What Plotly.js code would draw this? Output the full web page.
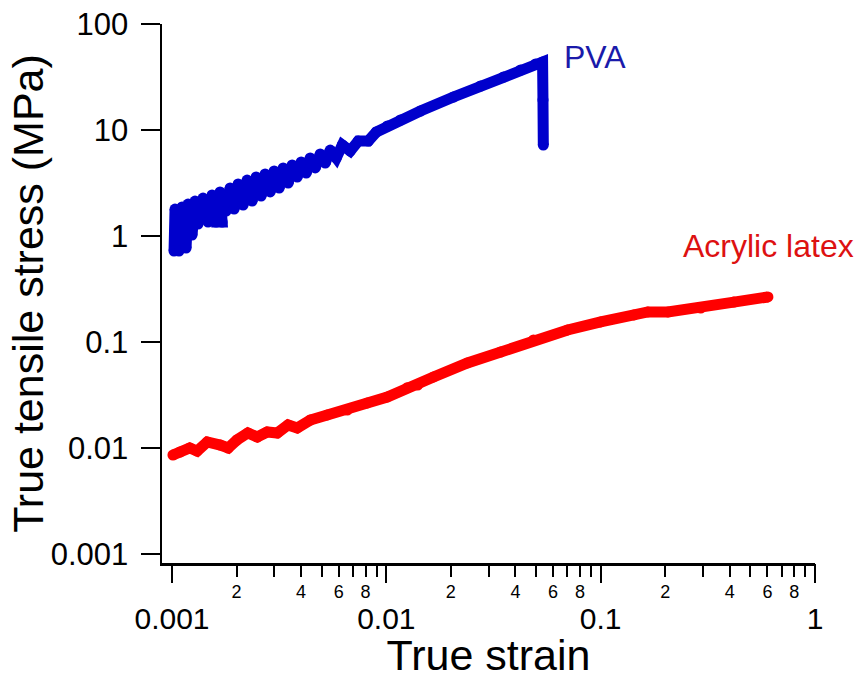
<!DOCTYPE html>
<html>
<head>
<meta charset="utf-8">
<script src="https://cdn.plot.ly/plotly-3.0.1.min.js"></script>
<style>html,body{margin:0;padding:0;background:#fff;}#chart{width:856px;height:679px;}</style>
</head>
<body>
<div id="chart"></div>
<script>
// PVA: true strain vs true tensile stress (MPa); noisy start read as a zigzag of samples
var pvaStrain = [0.001022, 0.001033, 0.001078, 0.001114, 0.001163, 0.001188, 0.001240, 0.001281, 0.001323, 0.001396,
  0.001473, 0.001538, 0.001606, 0.001713, 0.001676, 0.001788, 0.001867, 0.001949, 0.002035, 0.002147,
  0.002241, 0.002365, 0.002469, 0.002605, 0.002720, 0.002871, 0.002997, 0.003162, 0.003302, 0.003484,
  0.003637, 0.003838, 0.004007, 0.004228, 0.004414, 0.004658, 0.004915, 0.005187, 0.005474, 0.005840,
  0.006230, 0.006787, 0.007397, 0.008240, 0.008981, 0.01011, 0.01163, 0.01442, 0.02056, 0.02749,
  0.03521, 0.04228, 0.04969, 0.05358, 0.05380, 0.05400];
var pvaStress = [0.7221, 1.797, 0.7221, 1.877, 0.7704, 2.003, 1.0220, 2.138, 1.2980, 2.282,
  1.3556, 2.436, 1.3556, 1.3556, 2.600, 1.7213, 2.837, 1.7976, 3.094, 1.9610,
  3.374, 2.1389, 3.602, 2.3846, 3.845, 2.6016, 4.104, 2.8376, 4.380, 3.1623,
  4.675, 3.6031, 4.990, 3.9303, 5.442, 4.3818, 5.937, 4.8843, 6.474, 5.4444,
  7.217, 6.3383, 7.8748, 7.8748, 9.5750, 10.907, 12.43, 15.11, 20.48, 26.01,
  31.62, 36.81, 41.95, 43.80, 19.19, 7.2];

// Acrylic latex
var latexStrain = [0.00101, 0.00109, 0.00121, 0.00131, 0.00146, 0.00168, 0.00183, 0.00201, 0.00226, 0.00250,
  0.00278, 0.00310, 0.00348, 0.00384, 0.00442, 0.00530, 0.00657, 0.00815, 0.0101, 0.0125,
  0.0140, 0.0166, 0.0239, 0.0341, 0.0486, 0.0701, 0.100, 0.143, 0.166, 0.206,
  0.293, 0.418, 0.603];
var latexStress = [0.00859, 0.00917, 0.0100, 0.00937, 0.0114, 0.01067, 0.0100, 0.0119, 0.01386, 0.0127,
  0.01416, 0.01386, 0.0165, 0.01545, 0.01837, 0.0205, 0.0228, 0.0266, 0.0303, 0.0370,
  0.0393, 0.0468, 0.0634, 0.0805, 0.1045, 0.130, 0.1545, 0.180, 0.192, 0.192,
  0.209, 0.238, 0.266];

// Axis ticks
var xMajorTicks = [0.001, 0.01, 0.1, 1];
var xMajorLabels = ['0.001', '0.01', '0.1', '1'];
var xMinorTicks = [0.002, 0.003, 0.004, 0.005, 0.006, 0.007, 0.008, 0.009,
  0.02, 0.03, 0.04, 0.05, 0.06, 0.07, 0.08, 0.09,
  0.2, 0.3, 0.4, 0.5, 0.6, 0.7, 0.8, 0.9];
var xMinorLabels = ['2', '', '4', '', '6', '', '8', '',
  '2', '', '4', '', '6', '', '8', '',
  '2', '', '4', '', '6', '', '8', ''];
var yTicks = [0.001, 0.01, 0.1, 1, 10, 100];
var yLabels = ['0.001', '0.01', '0.1', '1', '10', '100'];

// Series labels
var seriesNames = ['PVA', 'Acrylic latex'];

var FONT = 'Arial, "Liberation Sans", sans-serif';
var xRange = [-3.0467, 0];
var yRange = [-3.0849, 2];

var traces = [
  {x: latexStrain, y: latexStress, xaxis: 'x', yaxis: 'y', type: 'scatter', mode: 'lines+markers',
   name: seriesNames[1], line: {color: '#ff0000', width: 11}, marker: {color: '#ff0000', size: 11, line: {width: 0}}},
  {x: pvaStrain, y: pvaStress, xaxis: 'x2', yaxis: 'y2', type: 'scatter', mode: 'lines+markers',
   name: seriesNames[0], line: {color: '#0000cc', width: 11}, marker: {color: '#0000cc', size: 11, line: {width: 0}}}
];

var layout = {
  width: 856, height: 679,
  margin: {l: 162, r: 41, t: 24, b: 116},
  paper_bgcolor: '#ffffff', plot_bgcolor: '#ffffff',
  showlegend: false,
  font: {family: FONT, color: '#000'},
  xaxis: {
    type: 'log', range: xRange, anchor: 'y',
    tickmode: 'array', tickvals: xMinorTicks, ticktext: xMinorLabels,
    ticks: 'outside', ticklen: 11, tickwidth: 2, tickcolor: '#000',
    tickfont: {family: FONT, size: 18, color: '#000'},
    showline: true, linecolor: '#000', linewidth: 2.5,
    showgrid: false, zeroline: false
  },
  xaxis2: {
    type: 'log', range: xRange, overlaying: 'x', anchor: 'y2', side: 'bottom',
    tickmode: 'array', tickvals: xMajorTicks, ticktext: xMajorLabels,
    ticks: 'outside', ticklen: 19, tickwidth: 2, tickcolor: '#000',
    tickfont: {family: FONT, size: 30, color: '#000'},
    ticklabelstandoff: 10,
    showline: false, showgrid: false, zeroline: false,
    title: {text: 'True strain', font: {family: FONT, size: 43, color: '#000'}, standoff: 30}
  },
  yaxis: {
    type: 'log', range: yRange, anchor: 'x',
    tickmode: 'array', tickvals: yTicks, ticktext: yLabels,
    ticks: 'outside', ticklen: 19, tickwidth: 2, tickcolor: '#000',
    tickfont: {family: FONT, size: 31, color: '#000'},
    ticklabelstandoff: 6,
    showline: true, linecolor: '#000', linewidth: 2.5,
    showgrid: false, zeroline: false
  },
  yaxis2: {
    type: 'log', range: yRange, overlaying: 'y', anchor: 'x2', side: 'left',
    showticklabels: false, ticks: '', showline: false, showgrid: false, zeroline: false,
    title: {text: 'True tensile stress (MPa)', font: {family: FONT, size: 43, color: '#000'}, standoff: 103}
  },
  annotations: [
    {xref: 'x', yref: 'y', x: -1.1826, y: 1.689, text: seriesNames[0], showarrow: false,
     xanchor: 'left', yanchor: 'middle', font: {family: FONT, size: 32, color: '#1a1aaa'}},
    {xref: 'x', yref: 'y', x: -0.626, y: -0.094, text: seriesNames[1], showarrow: false,
     xanchor: 'left', yanchor: 'middle', font: {family: FONT, size: 32, color: '#dd1111'}}
  ]
};

Plotly.newPlot('chart', traces, layout, {staticPlot: true, displayModeBar: false});
</script>
</body>
</html>
